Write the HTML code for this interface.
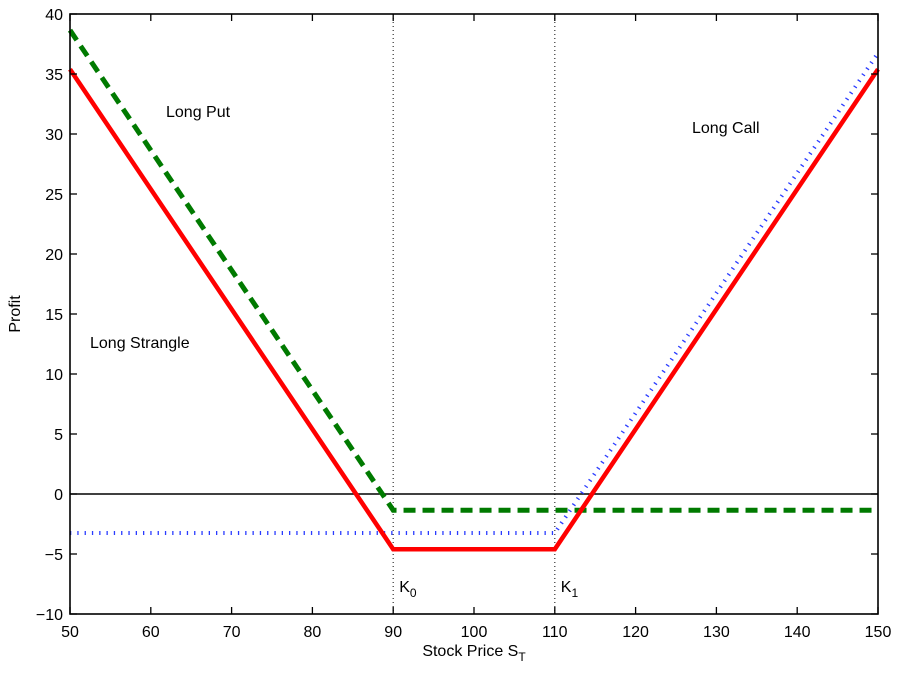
<!DOCTYPE html>
<html><head><meta charset="utf-8"><style>
body{margin:0;background:#fff}
svg text{font-family:"Liberation Sans",sans-serif;fill:#000}
</style></head><body>
<svg id="chart" width="901" height="673" xmlns="http://www.w3.org/2000/svg">
<g id="g"></g>
</svg>
<script>
const xTicks=[50,60,70,80,90,100,110,120,130,140,150];
const yTicks=[-10,-5,0,5,10,15,20,25,30,35,40];
const strikes=[90,110];
const strikeLabels=["K","K"];
const strikeSubs=["0","1"];
const putPremium=[1.35];
const callPremium=[3.25];
const stockRange=[50,150];
const X0=70,X1=878,Y0=614,Y1=14;
const sx=v=>X0+(v-50)/100*(X1-X0);
const sy=v=>Y0-(v+10)/50*(Y0-Y1);
const NS="http://www.w3.org/2000/svg";
const g=document.getElementById('g');
function el(t,a,txt){const e=document.createElementNS(NS,t);for(const k in a)e.setAttribute(k,a[k]);if(txt!==undefined)e.textContent=txt;g.appendChild(e);return e;}
const put=s=>Math.max(strikes[0]-s,0)-putPremium[0];
const call=s=>Math.max(s-strikes[1],0)-callPremium[0];
const strg=s=>put(s)+call(s);
function pts(f){const xs=[stockRange[0],strikes[0],strikes[1],stockRange[1]];return xs.map(s=>sx(s)+','+sy(f(s))).join(' ');}
strikes.forEach((k,i)=>{
 let l=el('line',{x1:sx(k),x2:sx(k),y1:Y1,y2:Y0,stroke:'#333','stroke-width':1.2,'stroke-dasharray':'1 3'});
 
 
 let t=el('text',{x:sx(k)+6,y:592,'font-size':16},strikeLabels[i]);
 
 
 let ts=document.createElementNS(NS,'tspan');ts.setAttribute('dy','5');ts.setAttribute('font-size','12');ts.textContent=strikeSubs[i];t.appendChild(ts);
});
let z=el('line',{x1:X0,x2:X1,y1:sy(0),y2:sy(0),stroke:'#000','stroke-width':1.5});


let b=el('polyline',{points:pts(call),fill:'none',stroke:'#2a3cff','stroke-width':4,'stroke-dasharray':'1.3 6'});


let gr=el('polyline',{points:pts(put),fill:'none',stroke:'#007a00','stroke-width':5,'stroke-dasharray':'12 7'});


let r=el('polyline',{points:pts(strg),fill:'none',stroke:'#ff0000','stroke-width':4.5,'stroke-linejoin':'miter'});


let ax=el('rect',{x:X0,y:Y1,width:X1-X0,height:Y0-Y1,fill:'none',stroke:'#000','stroke-width':1.6});


xTicks.forEach(v=>{
 el('line',{x1:sx(v),x2:sx(v),y1:Y0,y2:Y0-7,stroke:'#000','stroke-width':1.3});
 el('line',{x1:sx(v),x2:sx(v),y1:Y1,y2:Y1+7,stroke:'#000','stroke-width':1.3});
 let t=el('text',{x:sx(v),y:637,'font-size':16,'text-anchor':'middle'},v);
 
 
});
yTicks.forEach(v=>{
 el('line',{x1:X0,x2:X0+7,y1:sy(v),y2:sy(v),stroke:'#000','stroke-width':1.3});
 el('line',{x1:X1,x2:X1-7,y1:sy(v),y2:sy(v),stroke:'#000','stroke-width':1.3});
 let t=el('text',{x:63,y:sy(v)+6,'font-size':16,'text-anchor':'end'},v<0?'\u2212'+(-v):v);
 
 
});
const anns=[["Long Put",166,117,"annotation-long-put"],["Long Call",692,133,"annotation-long-call"],["Long Strangle",90,348,"annotation-long-strangle"]];
anns.forEach(a=>{let t=el('text',{x:a[1],y:a[2],'font-size':16},a[0]);
 
 });
let xt=el('text',{x:474,y:656,'font-size':16,'text-anchor':'middle'},'Stock Price S');


let s2=document.createElementNS(NS,'tspan');s2.setAttribute('dy','5');s2.setAttribute('font-size','12');s2.textContent='T';xt.appendChild(s2);
let yt=el('text',{x:20,y:314,'font-size':16,'text-anchor':'middle',transform:'rotate(-90 20 314)'},'Profit');


</script>
</body></html>
